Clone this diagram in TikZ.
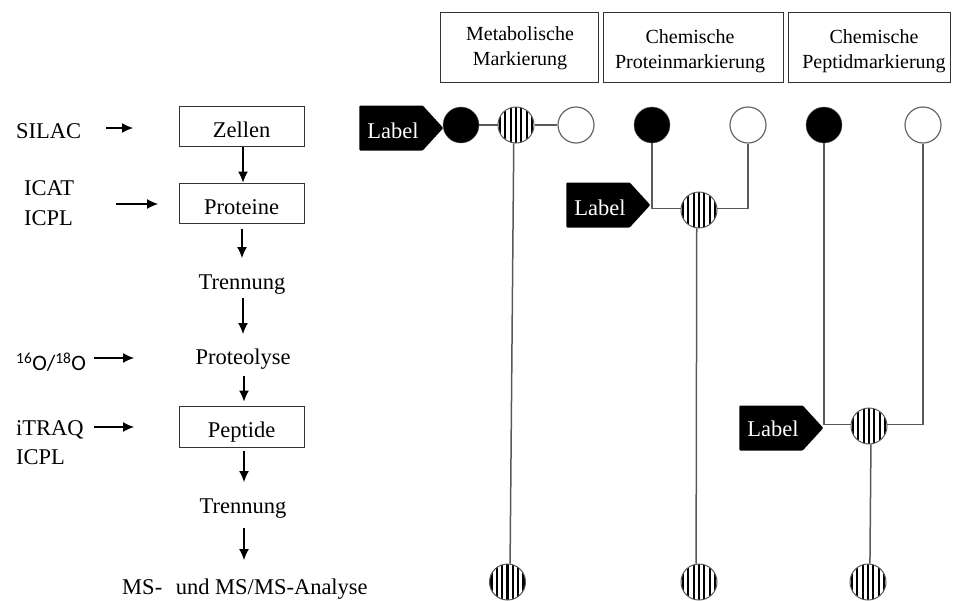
\documentclass[tikz,border=0pt]{standalone}
\usepackage{fontspec}
\setmainfont{Liberation Serif}
\newfontfamily\isofont{Carlito}
\usetikzlibrary{shapes.symbols,arrows.meta}
\definecolor{linegray}{gray}{0.35}
\newcommand{\lowered}[1]{\raisebox{-11pt}[0pt][0pt]{#1}}
\newcommand{\tagtext}[1]{\hspace*{4pt}\raisebox{-#1pt}[\height][\depth]{Label}}
\tikzset{
  x=1pt,y=-1pt,
  txt/.style={inner sep=0pt,font=\fontsize{22.5}{25}\selectfont,align=center},
  hdrbox/.style={draw=black!80,line width=1pt,minimum height=70pt,inner sep=0pt},
  hdrtxt/.style={inner sep=0pt,align=center,font=\fontsize{20}{25}\selectfont},
  stepbox/.style={txt,draw=black!80,line width=1pt,minimum width=125pt,minimum height=40pt},
  arr/.style={line width=1.2pt,-{Latex[length=11pt,width=10pt]}},
  conn/.style={draw=linegray,line width=1.5pt},
  fullc/.style={circle,draw=black!60,fill=black,minimum size=36pt,inner sep=0pt},
  openc/.style={circle,draw=black!60,line width=1.2pt,fill=white,minimum size=36pt,inner sep=0pt},
  stripec/.style={circle,draw=black!65,line width=1pt,fill=white,minimum size=36pt,inner sep=0pt,
    path picture={\foreach \dx in {-16,-10.7,-5.35,0,5.35,10.7,16}
      {\draw[black,line width=2.2pt] ([xshift=\dx pt]path picture bounding box.north) -- ([xshift=\dx pt]path picture bounding box.south);}}},
  tag/.style={signal,signal to=east,signal pointer angle=95,fill=black,text=white,inner sep=0pt,
    minimum width=84pt,minimum height=45pt,rounded corners=1pt,font=\fontsize{22.5}{25}\selectfont}
}
\begin{document}
\begin{tikzpicture}
\useasboundingbox (0,0) rectangle (955,600);
% headers
\node[hdrbox,minimum width=158pt] (h1) at (519,47) {};
\node[hdrbox,minimum width=180pt] (h2) at (693,47) {};
\node[hdrbox,minimum width=162pt] (h3) at (869,47) {};
\node[hdrtxt] (t1) at (520,48) {Metabolische\\Markierung};
\node[hdrtxt] (t2) at (690,51) {Chemische\\Proteinmarkierung};
\node[hdrtxt] (t3) at (874,51) {Chemische\\Peptidmarkierung};
% workflow
\node[stepbox] (zellen) at (241.5,126) {\lowered{Zellen}};
\node[stepbox] (proteine) at (241.5,203) {\lowered{Proteine}};
\node[txt] (trenn1) at (242,285) {Trennung};
\node[txt] (proteo) at (243,359) {Proteolyse};
\node[stepbox,minimum height=41pt] (peptide) at (241.5,426.5) {\lowered{Peptide}};
\node[txt] (trenn2) at (243,509) {Trennung};
\node[txt] (ms) at (245,589) {MS-\hspace{8pt} und MS/MS-Analyse};
\draw[arr] ([xshift=1.5pt]zellen.south) -- ([xshift=1.5pt]proteine.north);
\draw[arr] ([xshift=.5pt,yshift=-5pt]proteine.south) -- ([yshift=27pt]trenn1.center);
\draw[arr] ([xshift=1pt,yshift=-13pt]trenn1.center) -- ([yshift=25pt]proteo.center);
\draw[arr] ([xshift=1pt,yshift=-17pt]proteo.center) -- ([xshift=2.5pt,yshift=4pt]peptide.north);
\draw[arr] ([xshift=2.5pt,yshift=-3pt]peptide.south) -- ([xshift=1pt,yshift=27pt]trenn2.center);
\draw[arr] ([xshift=1pt,yshift=-19pt]trenn2.center) -- ([xshift=-1pt,yshift=29pt]ms.center);
% reagents
\node[txt,anchor=west] (silac) at (16,131) {SILAC};
\node[txt,anchor=west] (icat) at (24,188) {ICAT};
\node[txt,anchor=west] (icpl1) at (24,218) {ICPL};
\node[txt,anchor=west,font=\isofont\fontsize{22}{25}\selectfont] (oxy) at (16,362) {\textsuperscript{16}O/\textsuperscript{18}O};
\node[txt,anchor=west] (itraq) at (16,430) {iTRAQ};
\node[txt,anchor=west] (icpl2) at (16,457) {ICPL};
\coordinate (a1) at (106,128); \coordinate (a1e) at (133,128);
\coordinate (a2) at (116,204); \coordinate (a2e) at (158,204);
\coordinate (a3) at (94,358); \coordinate (a3e) at (134,358);
\coordinate (a4) at (94,427); \coordinate (a4e) at (134,427);
\draw[arr] (a1) -- (a1e);
\draw[arr] (a2) -- (a2e);
\draw[arr] (a3) -- (a3e);
\draw[arr] (a4) -- (a4e);
% group 1
\node[fullc] (k1) at (461,125) {};
\node[stripec] (s1) at (516,125) {};
\node[openc] (w1) at (576,125) {};
\node[tag] (l1) at (391,128) {\tagtext{3}};
\node[stripec] (b1) at (507.5,582) {};
\draw[conn] (k1) -- (s1);
\draw[conn] (s1) -- (w1);
\draw[conn] (s1.263) -- (b1.82);
% group 2
\node[fullc] (k2) at (652,125) {};
\node[openc] (w2) at (748,125) {};
\node[stripec] (s2) at (699,210) {};
\node[tag] (l2) at (598,205) {\tagtext{3}};
\node[stripec] (b2) at (699,582) {};
\draw[conn] (k2) |- (s2.175);
\draw[conn] (w2) |- (s2.5);
\draw[conn] (s2.263) -- (b2.99);
% group 3
\node[fullc] (k3) at (824,125) {};
\node[openc] (w3) at (923,125) {};
\node[stripec] (s3) at (869,426) {};
\node[tag] (l3) at (771,428) {\tagtext{1}};
\node[stripec] (b3) at (868,582) {};
\draw[conn] (k3) |- (s3.176);
\draw[conn] (w3) |- (s3.4);
\draw[conn] (s3.276) -- (b3.84);
\end{tikzpicture}
\end{document}
